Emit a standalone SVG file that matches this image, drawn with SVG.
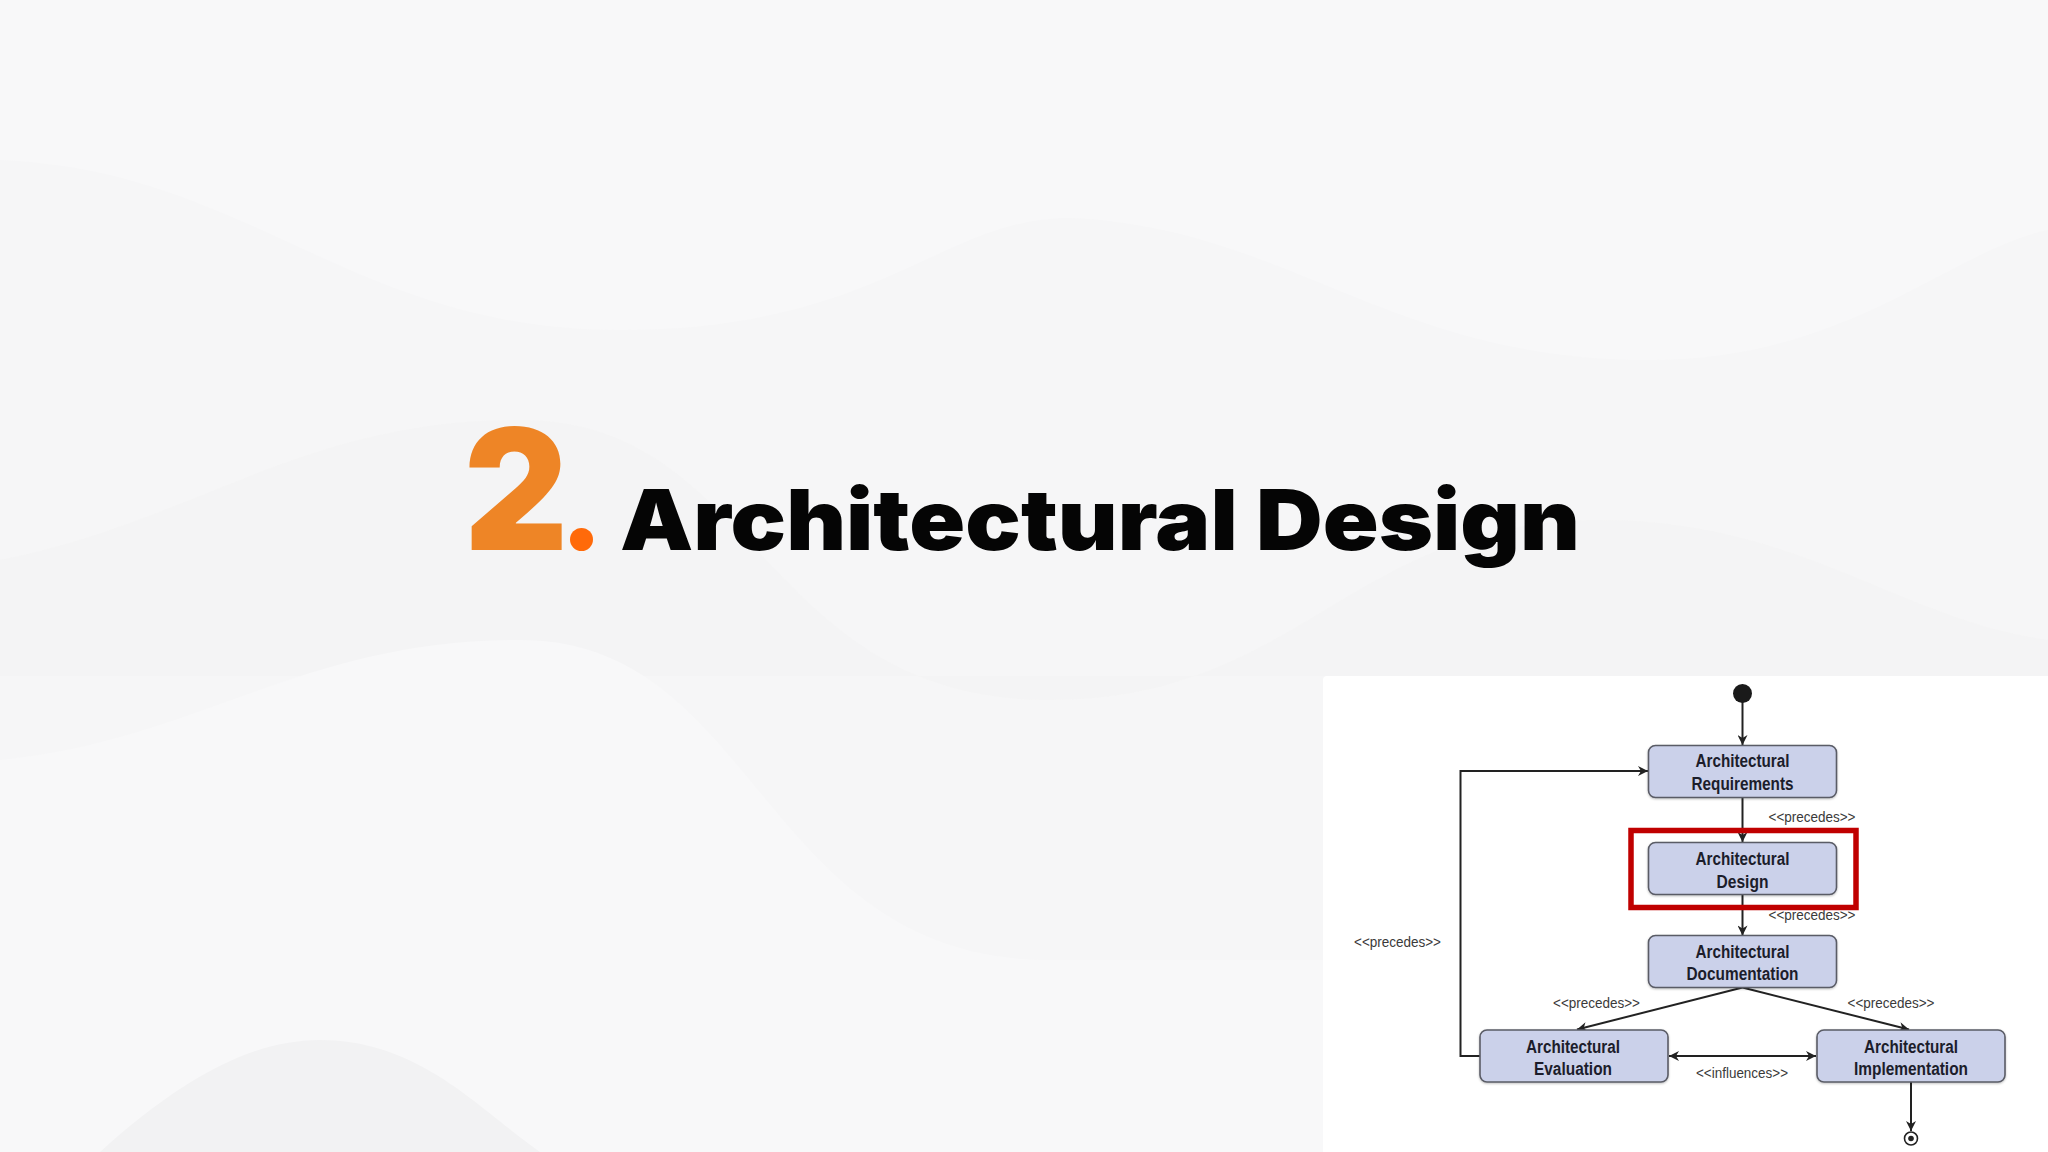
<svg xmlns="http://www.w3.org/2000/svg" width="2048" height="1152" viewBox="0 0 2048 1152">
  <style>
    .node rect.box { fill: #cbd1ea; stroke: #5a5c66; stroke-width: 1.6; }
    .node text { font-family: "Liberation Sans", Arial, sans-serif; font-weight: bold; font-size: 18px; fill: #1c1d2b; text-anchor: middle; }
    .lbl { font-family: "Liberation Sans", Arial, sans-serif; font-size: 14px; fill: #3a3a3a; text-anchor: middle; }
    .conn { stroke: #222; stroke-width: 2; fill: none; }
  </style>
  <defs>
    <marker id="arr" viewBox="0 0 10 10" refX="10" refY="5" markerWidth="12" markerHeight="10" markerUnits="userSpaceOnUse" orient="auto-start-reverse">
      <path d="M0,0 L10,5 L0,10 L3,5 z" fill="#222"/>
    </marker>
    <filter id="sh" x="-5%" y="-5%" width="110%" height="120%">
      <feDropShadow dx="0" dy="1" stdDeviation="1" flood-color="#000" flood-opacity="0.25"/>
    </filter>
  </defs>

  <!-- background -->
  <rect x="0" y="0" width="2048" height="1152" fill="#f6f6f7"/>
  <path d="M0,160 C250,170 350,330 620,330 C900,330 950,200 1100,220 C1300,240 1400,360 1650,360 C1850,360 1950,250 2048,230 L2048,0 L0,0 z" fill="#f8f8f9"/>
  <path d="M0,560 C200,520 300,420 520,420 C760,420 760,700 1050,700 C1300,700 1350,520 1600,520 C1800,520 1900,620 2048,640 L2048,676 L0,676 z" fill="#f3f3f4" opacity="0.7"/>
  <path d="M0,760 C200,740 300,640 520,640 C760,640 760,960 1050,960 L1323,960 L1323,1152 L0,1152 z" fill="#f8f8f9"/>
  <path d="M100,1152 C180,1080 250,1040 320,1040 C420,1040 480,1110 540,1152 z" fill="#f2f2f3"/>

  <!-- title -->
  <g id="title">
    <text x="464" y="550" font-family="Inter, Lato, 'Open Sans', sans-serif" font-weight="900" font-size="168" fill="#ee8526" textLength="104" lengthAdjust="spacingAndGlyphs">2</text>
    <circle cx="581.5" cy="539.5" r="11.5" fill="#ff6a0a"/>
    <text x="620" y="550" font-family="Inter, Lato, 'Open Sans', sans-serif" font-weight="900" font-size="84" fill="#050505" textLength="960" lengthAdjust="spacingAndGlyphs">Architectural Design</text>
  </g>

  <!-- diagram panel -->
  <rect x="1323" y="676" width="740" height="490" rx="4" fill="#ffffff"/>

  <!-- connectors -->
  <g id="connectors">
    <line class="conn" x1="1742.5" y1="702" x2="1742.5" y2="745" marker-end="url(#arr)"/>
    <line class="conn" x1="1742.5" y1="798" x2="1742.5" y2="842" marker-end="url(#arr)"/>
    <line class="conn" x1="1742.5" y1="894.5" x2="1742.5" y2="935.5" marker-end="url(#arr)"/>
    <line class="conn" x1="1742.5" y1="987.5" x2="1577" y2="1029.5" marker-end="url(#arr)"/>
    <line class="conn" x1="1742.5" y1="987.5" x2="1909" y2="1029.5" marker-end="url(#arr)"/>
    <line class="conn" x1="1669" y1="1056" x2="1816" y2="1056" marker-start="url(#arr)" marker-end="url(#arr)"/>
    <polyline class="conn" points="1480,1056 1460.5,1056 1460.5,771 1648,771" marker-end="url(#arr)"/>
    <line class="conn" x1="1911" y1="1082" x2="1911" y2="1131" marker-end="url(#arr)"/>
    <text class="lbl" x="1812" y="822" textLength="87" lengthAdjust="spacingAndGlyphs">&lt;&lt;precedes&gt;&gt;</text>
    <text class="lbl" x="1812" y="919.5" textLength="87" lengthAdjust="spacingAndGlyphs">&lt;&lt;precedes&gt;&gt;</text>
    <text class="lbl" x="1397.5" y="947" textLength="87" lengthAdjust="spacingAndGlyphs">&lt;&lt;precedes&gt;&gt;</text>
    <text class="lbl" x="1596.5" y="1008" textLength="87" lengthAdjust="spacingAndGlyphs">&lt;&lt;precedes&gt;&gt;</text>
    <text class="lbl" x="1891" y="1008" textLength="87" lengthAdjust="spacingAndGlyphs">&lt;&lt;precedes&gt;&gt;</text>
    <text class="lbl" x="1742" y="1078" textLength="92" lengthAdjust="spacingAndGlyphs">&lt;&lt;influences&gt;&gt;</text>
  </g>

  <!-- nodes -->
  <g id="start" class="node">
    <circle cx="1742.5" cy="693.5" r="9.5" fill="#1a1a1a"/>
  </g>
  <g id="requirements" class="node">
    <rect class="box" x="1648.5" y="745.5" width="188" height="52" rx="7" filter="url(#sh)"/>
    <text x="1742.5" y="767" textLength="94" lengthAdjust="spacingAndGlyphs">Architectural</text>
    <text x="1742.5" y="789.5" textLength="102" lengthAdjust="spacingAndGlyphs">Requirements</text>
  </g>
  <g id="design" class="node">
    <rect class="box" x="1648.5" y="842.5" width="188" height="52" rx="7" filter="url(#sh)"/>
    <text x="1742.5" y="865" textLength="94" lengthAdjust="spacingAndGlyphs">Architectural</text>
    <text x="1742.5" y="887.5" textLength="52" lengthAdjust="spacingAndGlyphs">Design</text>
    <rect x="1631" y="830.5" width="225" height="77" fill="none" stroke="#c00000" stroke-width="5.5"/>
  </g>
  <g id="documentation" class="node">
    <rect class="box" x="1648.5" y="935.5" width="188" height="52" rx="7" filter="url(#sh)"/>
    <text x="1742.5" y="957.5" textLength="94" lengthAdjust="spacingAndGlyphs">Architectural</text>
    <text x="1742.5" y="980" textLength="112" lengthAdjust="spacingAndGlyphs">Documentation</text>
  </g>
  <g id="evaluation" class="node">
    <rect class="box" x="1480" y="1030" width="188" height="52" rx="7" filter="url(#sh)"/>
    <text x="1573" y="1052.5" textLength="94" lengthAdjust="spacingAndGlyphs">Architectural</text>
    <text x="1573" y="1075" textLength="78" lengthAdjust="spacingAndGlyphs">Evaluation</text>
  </g>
  <g id="implementation" class="node">
    <rect class="box" x="1817" y="1030" width="188" height="52" rx="7" filter="url(#sh)"/>
    <text x="1911" y="1052.5" textLength="94" lengthAdjust="spacingAndGlyphs">Architectural</text>
    <text x="1911" y="1075" textLength="114" lengthAdjust="spacingAndGlyphs">Implementation</text>
  </g>
  <g id="end" class="node">
    <circle cx="1911" cy="1138.5" r="6.5" fill="#fff" stroke="#222" stroke-width="1.6"/>
    <circle cx="1911" cy="1138.5" r="2.8" fill="#222"/>
  </g>
</svg>
